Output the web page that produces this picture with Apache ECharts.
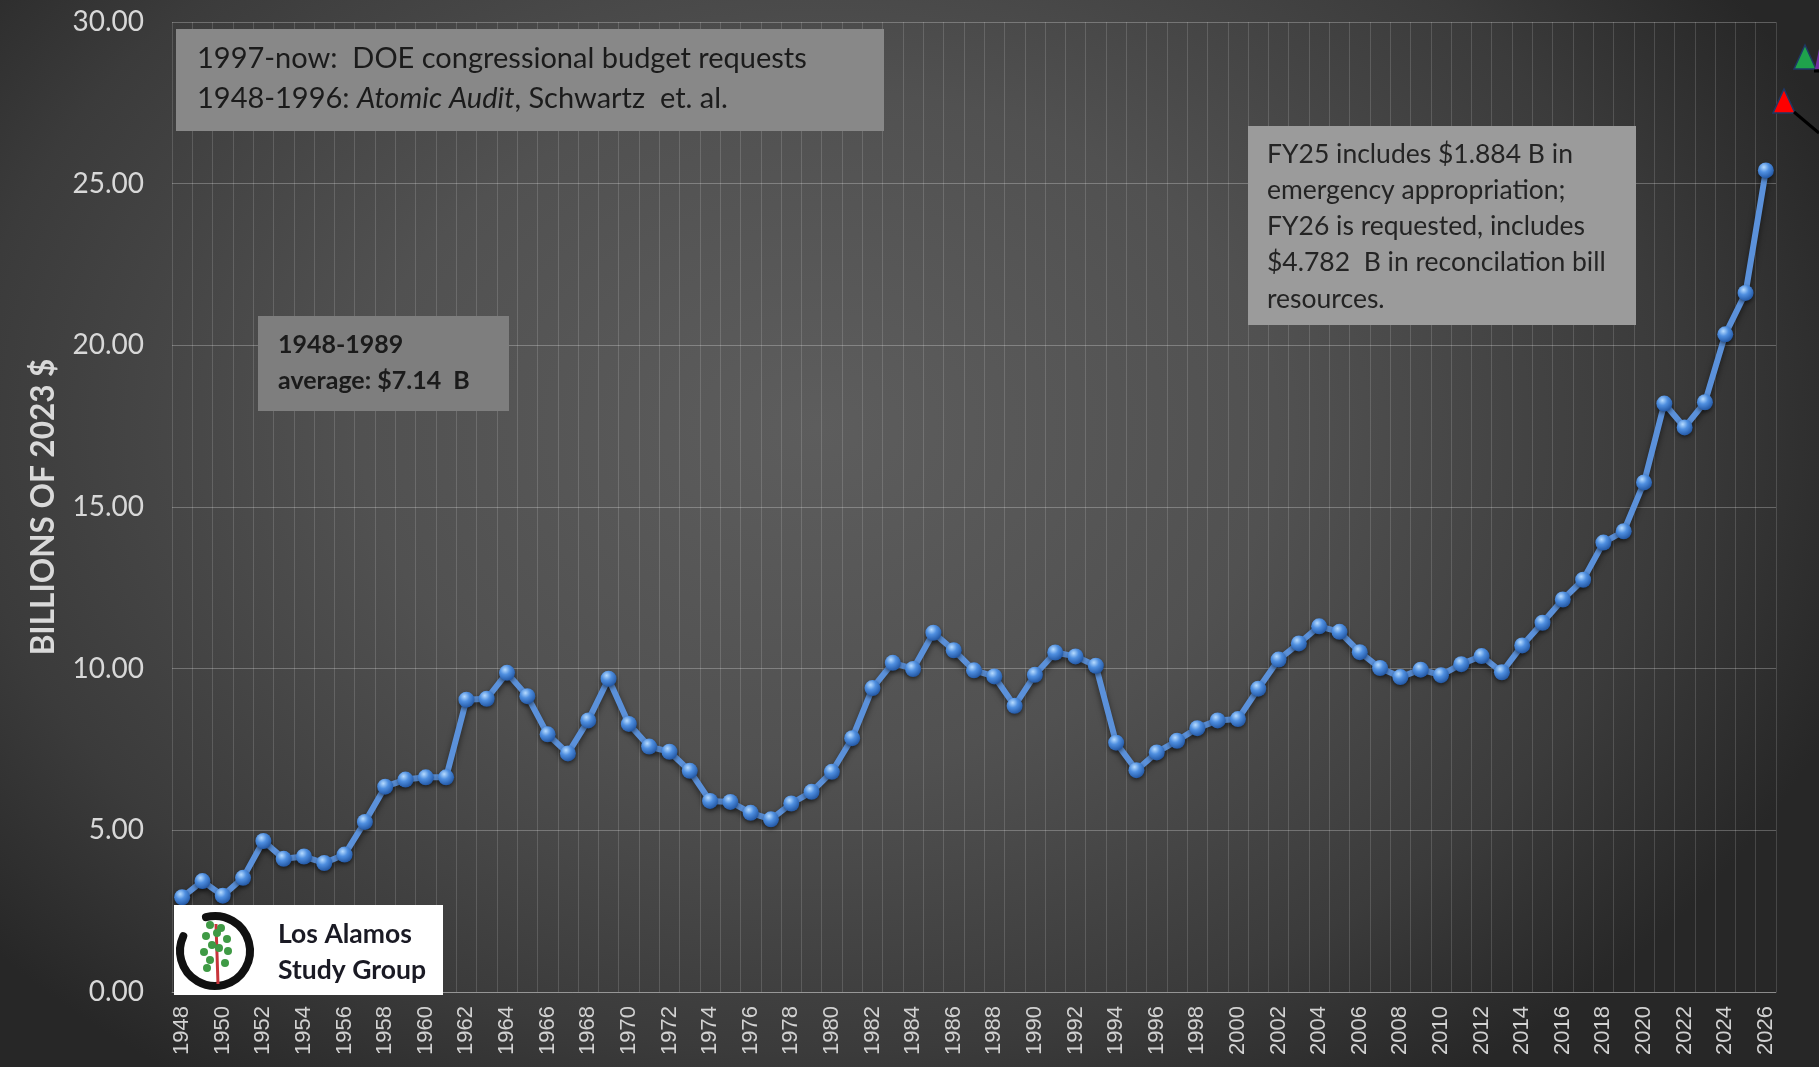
<!DOCTYPE html>
<html lang="en">
<head>
<meta charset="UTF-8">
<title>DOE nuclear weapons spending, 1948-2026</title>
<style>
    * { margin: 0; padding: 0; box-sizing: border-box; }
    body {
        width: 1819px;
        height: 1067px;
        overflow: hidden;
        background: radial-gradient(ellipse 60% 75% at 45% 40%, #5d5d5d 0%, #515151 42%, #3b3b3b 78%, #272727 100%);
    }
    #chart { width: 1819px; height: 1067px; }
</style>
</head>
<body>
<div id="chart"></div>
<script src="https://cdn.jsdelivr.net/npm/echarts@6/dist/echarts.min.js"></script>
<script>
// fiscal years on the x axis
const years = [
    '1948','1949','1950','1951','1952','1953','1954','1955','1956','1957',
    '1958','1959','1960','1961','1962','1963','1964','1965','1966','1967',
    '1968','1969','1970','1971','1972','1973','1974','1975','1976','1977',
    '1978','1979','1980','1981','1982','1983','1984','1985','1986','1987',
    '1988','1989','1990','1991','1992','1993','1994','1995','1996','1997',
    '1998','1999','2000','2001','2002','2003','2004','2005','2006','2007',
    '2008','2009','2010','2011','2012','2013','2014','2015','2016','2017',
    '2018','2019','2020','2021','2022','2023','2024','2025','2026'
];

// billions of 2023 dollars
const budget = [
    2.93, 3.43, 2.98, 3.53, 4.67, 4.12, 4.19, 3.99, 4.25, 5.26,
    6.35, 6.57, 6.64, 6.64, 9.04, 9.07, 9.87, 9.15, 7.97, 7.38,
    8.40, 9.69, 8.29, 7.59, 7.43, 6.84, 5.91, 5.88, 5.54, 5.34,
    5.83, 6.19, 6.81, 7.85, 9.40, 10.18, 9.99, 11.11, 10.57, 9.95,
    9.76, 8.85, 9.81, 10.50, 10.38, 10.09, 7.71, 6.86, 7.41, 7.77,
    8.16, 8.40, 8.44, 9.38, 10.28, 10.78, 11.31, 11.14, 10.51, 10.02,
    9.74, 9.97, 9.80, 10.14, 10.39, 9.89, 10.72, 11.42, 12.14, 12.75,
    13.90, 14.25, 15.76, 18.20, 17.46, 18.24, 20.34, 21.62, 25.41
];

// y axis ticks
const yMin = 0, yMax = 30, yStep = 5;

const fyNote = [
    'FY25 includes $1.884 B in',
    'emergency appropriation;',
    'FY26 is requested, includes',
    '$4.782  B in reconcilation bill',
    'resources.'
];

const FONT = 'Lato, "Open Sans", sans-serif';
const chart = echarts.init(document.getElementById('chart'));

const noteBox = (x, y, w, h, fill) => ({
    type: 'rect', z: 100,
    shape: { x, y, width: w, height: h },
    style: { fill }
});
const noteText = (x, y, text, size, weight, fill) => ({
    type: 'text', z: 101,
    style: {
        x, y, text, fill: fill || '#1b1b1b',
        font: `${weight || 'normal'} ${size}px ${FONT}`,
        verticalAlign: 'middle'
    }
});

// the little tree inside the logo circle
const leaves = [[210,925],[221,928],[206,936],[227,939],[212,945],[204,952],[228,951],[210,960],[225,963],[217,933],[219,948],[207,968]];

const graphics = [
    // sources box
    noteBox(176, 29, 708, 102, '#888888'),
    noteText(197, 59, '1997-now:  DOE congressional budget requests', 29),
    {
        type: 'text', z: 101,
        style: {
            x: 197, y: 99, verticalAlign: 'middle',
            text: '{a|1948-1996: }{i|Atomic Audit}{a|, Schwartz  et. al.}',
            rich: {
                a: { font: `29px ${FONT}`, fill: '#1b1b1b' },
                i: { font: `italic 29px ${FONT}`, fill: '#1b1b1b' }
            }
        }
    },
    // cold war average
    noteBox(258, 316, 251, 95, '#7e7e7e'),
    noteText(278, 345, '1948-1989', 25, 'bold'),
    noteText(278, 381, 'average: $7.14  B', 25, 'bold'),
    // FY25 / FY26 note
    noteBox(1248, 126, 388, 199, '#9b9b9b'),
    ...fyNote.map((t, i) => noteText(1267, 154 + i * 36.3, t, 26.5, 'normal', '#242424')),
    // logo
    noteBox(174, 905, 269, 90, '#ffffff'),
    {
        type: 'arc', z: 102,
        shape: { cx: 215, cy: 951, r: 35, startAngle: -105 * Math.PI / 180, endAngle: 205 * Math.PI / 180, clockwise: true },
        style: { stroke: '#111', lineWidth: 8, fill: null, lineCap: 'round' }
    },
    {
        type: 'line', z: 102,
        shape: { x1: 216, y1: 924, x2: 218, y2: 984 },
        style: { stroke: '#c8343a', lineWidth: 3 }
    },
    ...leaves.map(([cx, cy]) => ({
        type: 'circle', z: 103,
        shape: { cx, cy, r: 4 },
        style: { fill: '#3f9a45' }
    })),
    noteText(278, 934, 'Los Alamos', 26.5, 'bold', '#1a1a24'),
    noteText(278, 970, 'Study Group', 26.5, 'bold', '#1a1a24'),
    // clipped legend remnants at the right edge
    {
        type: 'polygon', z: 100,
        shape: { points: [[1805, 45], [1794, 69], [1816, 69]] },
        style: { fill: '#1fa24c', stroke: '#1f3864', lineWidth: 1.5 }
    },
    {
        type: 'polygon', z: 100,
        shape: { points: [[1819, 49], [1815, 69], [1819, 69]] },
        style: { fill: '#7030a0' }
    },
    {
        type: 'line', z: 100,
        shape: { x1: 1814, y1: 71, x2: 1819, y2: 71 },
        style: { stroke: '#000', lineWidth: 3 }
    },
    {
        type: 'polygon', z: 100,
        shape: { points: [[1784, 89], [1773, 113], [1795, 113]] },
        style: { fill: '#ff0000', stroke: '#1f3864', lineWidth: 1.5 }
    },
    {
        type: 'line', z: 100,
        shape: { x1: 1794, y1: 112, x2: 1819, y2: 133 },
        style: { stroke: '#000', lineWidth: 3 }
    }
];

chart.setOption({
    backgroundColor: 'transparent',
    animation: false,
    grid: { left: 172, right: 43, top: 22, bottom: 75, outerBoundsMode: 'none' },
    xAxis: {
        type: 'category',
        data: years,
        boundaryGap: true,
        axisLine: { show: true, lineStyle: { color: 'rgba(255,255,255,0.28)', width: 1 } },
        axisTick: { show: false },
        axisLabel: {
            rotate: 90, interval: 1, margin: 14,
            color: '#d2d2d2', fontSize: 22,
            fontFamily: '"Liberation Sans", Arial, sans-serif'
        },
        splitLine: { show: true, interval: 0, lineStyle: { color: 'rgba(255,255,255,0.15)', width: 1 } }
    },
    yAxis: {
        type: 'value',
        min: yMin, max: yMax, interval: yStep,
        name: 'BILLIONS OF 2023 $',
        nameLocation: 'middle',
        nameRotate: 90,
        nameGap: 112,
        nameTextStyle: { color: '#d9d9d9', fontSize: 31.5, fontWeight: 'bold', fontFamily: FONT },
        axisLine: { show: false },
        axisTick: { show: false },
        axisLabel: {
            margin: 28, color: '#d8d8d8', fontSize: 28, fontFamily: FONT,
            formatter: v => v.toFixed(2)
        },
        splitLine: { lineStyle: { color: 'rgba(255,255,255,0.26)', width: 1 } }
    },
    series: [{
        type: 'line',
        data: budget,
        symbol: 'circle',
        symbolSize: 16,
        showAllSymbol: true,
        lineStyle: {
            color: '#5b91da', width: 6,
            shadowColor: 'rgba(0,0,0,0.55)', shadowBlur: 6, shadowOffsetY: 3
        },
        itemStyle: {
            color: {
                type: 'radial', x: 0.38, y: 0.3, r: 0.7,
                colorStops: [
                    { offset: 0, color: '#b6dbff' },
                    { offset: 0.45, color: '#4f8fe0' },
                    { offset: 1, color: '#2459a6' }
                ]
            },
            shadowColor: 'rgba(0,0,0,0.5)', shadowBlur: 4, shadowOffsetY: 2
        },
        z: 5
    }],
    graphic: graphics
});

window.addEventListener('resize', () => chart.resize());
</script>
</body>
</html>
